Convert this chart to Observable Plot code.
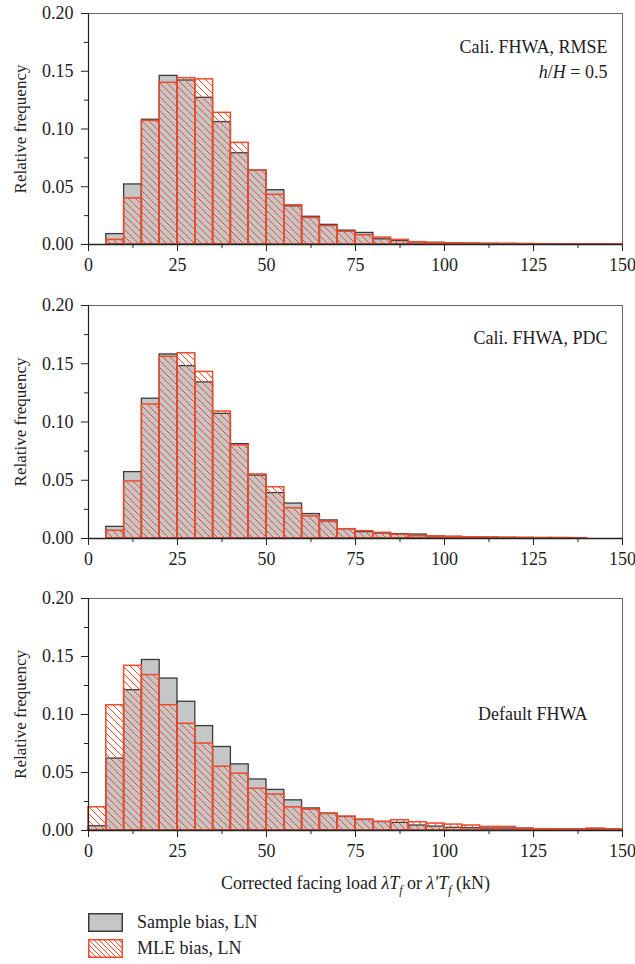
<!DOCTYPE html>
<html>
<head>
<meta charset="utf-8">
<script src="https://cdn.jsdelivr.net/npm/d3@7"></script>
<script src="https://cdn.jsdelivr.net/npm/@observablehq/plot@0.6"></script>
<style>
  html, body { margin: 0; padding: 0; background: #fff; }
  #chart { width: 635px; font-family: "Liberation Serif", "DejaVu Serif", serif; color: #222; }
  #chart svg { display: block; }
  .xtitle { text-align: center; font-size: 18px; line-height: 26px; height: 26px; padding-left: 76px; box-sizing: border-box; }
  .legend { padding-top: 13px; }
  .legend-row { display: flex; align-items: center; height: 26px; padding-left: 88px; font-size: 18px; }
  .legend-row svg { margin-right: 14px; }
</style>
</head>
<body>
<div id="chart"></div>
<script>
// Bin left edges (kN), 5 kN wide bins from 0 to 150
const binStarts = d3.range(0, 150, 5);

// Cali. FHWA, RMSE (h/H = 0.5)
const rmseSample = [0, 0.009, 0.052, 0.108, 0.146, 0.142, 0.127, 0.106, 0.079, 0.064,
  0.047, 0.033, 0.024, 0.017, 0.012, 0.010, 0.0045, 0.003, 0.002, 0.0015,
  0.001, 0.0008, 0.0006, 0.0005, 0.0004, 0.0003, 0.0003, 0.0002, 0.0002, 0.0001];
const rmseMle = [0, 0.004, 0.040, 0.107, 0.140, 0.144, 0.143, 0.114, 0.088, 0.064,
  0.043, 0.034, 0.023, 0.016, 0.011, 0.008, 0.006, 0.004, 0.002, 0.0012,
  0.0009, 0.0007, 0.0005, 0.0005, 0.0004, 0.0003, 0.0002, 0.0002, 0.0002, 0.0001];

// Cali. FHWA, PDC
const pdcSample = [0, 0.010, 0.057, 0.120, 0.158, 0.148, 0.134, 0.107, 0.081, 0.054,
  0.039, 0.030, 0.021, 0.0155, 0.008, 0.0055, 0.0043, 0.0037, 0.0034, 0.0017,
  0.0014, 0.001, 0.0008, 0.0006, 0.0005, 0.0004, 0.0004, 0.0003, 0, 0];
const pdcMle = [0, 0.0066, 0.049, 0.115, 0.156, 0.159, 0.143, 0.109, 0.080, 0.055,
  0.044, 0.026, 0.019, 0.0143, 0.008, 0.0063, 0.0049, 0.0032, 0.002, 0.0017,
  0.0014, 0.001, 0.0008, 0.0006, 0.0005, 0.0004, 0.0004, 0.0003, 0, 0];

// Default FHWA
const defSample = [0.0037, 0.062, 0.121, 0.147, 0.131, 0.111, 0.090, 0.072, 0.057, 0.044,
  0.035, 0.026, 0.019, 0.0146, 0.0117, 0.0091, 0.0074, 0.0066, 0.0043, 0.0034,
  0.0023, 0.002, 0.0017, 0.0017, 0.0017, 0.0011, 0.001, 0.0009, 0.0012, 0.0009];
const defMle = [0.020, 0.108, 0.142, 0.134, 0.108, 0.092, 0.075, 0.055, 0.049, 0.036,
  0.031, 0.020, 0.018, 0.0143, 0.012, 0.0094, 0.0074, 0.0089, 0.0071, 0.006,
  0.0051, 0.0043, 0.0031, 0.0031, 0.0014, 0.0011, 0.001, 0.0009, 0.0017, 0.0009];

const yTicks = [0, 0.05, 0.10, 0.15, 0.20];
const yMinor = [0.025, 0.075, 0.125, 0.175];
const xTicks = [0, 25, 50, 75, 100, 125, 150];
const xMinor = [12.5, 37.5, 62.5, 87.5, 112.5, 137.5];

const grayFill = "#c5c6c8";
const grayStroke = "#3a3a3a";
const red = "#ee4a2b";
const binWidth = 5;
const serif = "'Liberation Serif', 'DejaVu Serif', serif";

function panel({sample, mle, id, height, marginBottom, notes}) {
  const rows = binStarts.map((x0, i) => ({x0, x1: x0 + binWidth, sample: sample[i], mle: mle[i]}));
  const svg = Plot.plot({
    width: 635,
    height,
    marginLeft: 88,
    marginRight: 13,
    marginTop: 13,
    marginBottom,
    style: {fontFamily: serif, fontSize: "18px", color: "#222", background: "#fff"},
    x: {domain: [0, 150]},
    y: {domain: [0, 0.2]},
    marks: [
      Plot.frame({stroke: "#666", strokeWidth: 1}),
      Plot.rectY(rows, {x1: "x0", x2: "x1", y: "sample", fill: grayFill, stroke: grayStroke, strokeWidth: 1.3}),
      Plot.rectY(rows, {x1: "x0", x2: "x1", y: "mle", fill: `url(#${id})`, stroke: red, strokeWidth: 1.5}),
      Plot.ruleY([0], {stroke: "#222", strokeWidth: 1.3}),
      Plot.ruleX([0], {stroke: "#222", strokeWidth: 1.2}),
      Plot.axisY(yTicks, {tickSize: 7, tickPadding: 8, tickFormat: d3.format(".2f"), label: "Relative frequency",
        labelAnchor: "center", labelArrow: "none", labelOffset: 75, stroke: "#222", fontSize: 18}),
      Plot.axisY(yMinor, {tickSize: 4, tickFormat: () => "", label: null, stroke: "#222"}),
      Plot.axisX(xTicks, {tickSize: 7, tickPadding: 7, label: null, stroke: "#222", fontSize: 18}),
      Plot.axisX(xMinor, {tickSize: 4, tickFormat: () => "", label: null, stroke: "#222"}),
      ...notes.map(n => Plot.text([n.text], {text: d => d, frameAnchor: "top-right", textAnchor: "end",
        lineAnchor: "middle", dx: n.dx, dy: n.dy, fontSize: 18, fill: "#222"}))
    ]
  });
  // hatch pattern for the MLE bars
  const defs = d3.select(svg).insert("defs", ":first-child");
  const pat = defs.append("pattern").attr("id", id).attr("patternUnits", "userSpaceOnUse")
    .attr("width", 7).attr("height", 7);
  pat.append("path").attr("d", "M-1,-1L8,8M-1,6L1,8M6,-1L8,1")
    .attr("stroke", red).attr("stroke-width", 1).attr("fill", "none");
  // slightly smaller y-axis title than the tick labels
  d3.select(svg).selectAll('g[aria-label="y-axis label"]').attr("font-size", 17)
    .selectAll("text").attr("font-size", 17);
  // italic variables in the h/H note
  d3.select(svg).selectAll("text").filter(function() { return this.textContent === "h/H = 0.5"; })
    .each(function() {
      this.innerHTML = '<tspan font-style="italic">h</tspan>/<tspan font-style="italic">H</tspan> = 0.5';
    });
  return svg;
}

const chart = document.getElementById("chart");
chart.appendChild(panel({sample: rmseSample, mle: rmseMle, id: "hatch-rmse", height: 292, marginBottom: 48,
  notes: [{text: "Cali. FHWA, RMSE", dx: -15, dy: 34}, {text: "h/H = 0.5", dx: -15, dy: 59}]}));
chart.appendChild(panel({sample: pdcSample, mle: pdcMle, id: "hatch-pdc", height: 293, marginBottom: 47,
  notes: [{text: "Cali. FHWA, PDC", dx: -15, dy: 33}]}));
chart.appendChild(panel({sample: defSample, mle: defMle, id: "hatch-def", height: 285, marginBottom: 40,
  notes: [{text: "Default FHWA", dx: -35, dy: 116}]}));

// x-axis title and legend
const title = document.createElement("div");
title.className = "xtitle";
title.innerHTML = 'Corrected facing load <i>λT</i><sub style="font-size:12px"><i>f</i></sub> or <i>λ\'T</i><sub style="font-size:12px"><i>f</i></sub> (kN)';
chart.appendChild(title);

const legendItems = [
  {label: "Sample bias, LN", swatch: `<svg width="35" height="19"><rect x="0.75" y="0.75" width="33.5" height="17.5" fill="${grayFill}" stroke="${grayStroke}" stroke-width="1.5"/></svg>`},
  {label: "MLE bias, LN", swatch: `<svg width="35" height="19"><defs><pattern id="hatch-legend" patternUnits="userSpaceOnUse" width="5" height="5"><path d="M-1,-1L6,6M-1,4L1,6M4,-1L6,1" stroke="${red}" stroke-width="1" fill="none"/></pattern></defs><rect x="0.75" y="0.75" width="33.5" height="17.5" fill="url(#hatch-legend)" stroke="${red}" stroke-width="1.5"/></svg>`}
];
const legend = document.createElement("div");
legend.className = "legend";
for (const item of legendItems) {
  const row = document.createElement("div");
  row.className = "legend-row";
  row.innerHTML = item.swatch + `<span>${item.label}</span>`;
  legend.appendChild(row);
}
chart.appendChild(legend);
</script>
</body>
</html>
